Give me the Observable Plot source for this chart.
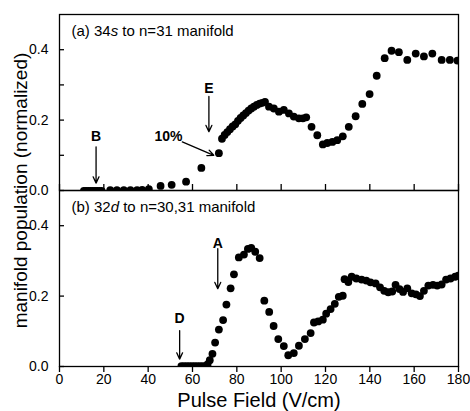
<!DOCTYPE html>
<html><head><meta charset="utf-8">
<script src="https://cdn.jsdelivr.net/npm/d3@7"></script>
<script src="https://cdn.jsdelivr.net/npm/@observablehq/plot@0.6"></script>
<style>
html,body{margin:0;padding:0;background:#fff;}
#chart{position:relative;width:470px;height:411px;}
#chart svg{position:absolute;left:0;overflow:visible;}
</style></head><body><div id="chart"></div>
<script>
// ---- data (a) 34s -> n=31 manifold ----
const topField = [11,12,13,14,15,16,17,18,19,
  22.9,25.9,29.0,32.0,35.0,37.3,40.3,45.6,50.6,57.1,64.0,71.9,
  73.3,74.5,75.7,76.9,78.1,79.3,80.5,81.7,82.9,84.1,85.3,86.5,87.7,89.0,90.3,91.5,92.7,
  94.5,96.7,99.0,101.2,103.5,105.7,108.0,109.8,111.3,113.7,116.3,118.8,120.8,123.1,125.3,127.8,130.5,133.6,136.6,139.9,
  143.1,146.7,149.8,153.1,156.9,160.7,164.4,168.2,172.4,176.1,179.5];
const topPop = [-0.001,-0.001,-0.001,-0.001,-0.001,-0.001,-0.001,-0.001,-0.001,
  0.001,0.001,0.001,0.001,0.001,0.002,0.004,0.013,0.016,0.025,0.064,0.106,
  0.147,0.158,0.166,0.174,0.182,0.188,0.198,0.206,0.213,0.220,0.227,0.233,0.238,0.243,0.247,0.249,0.252,
  0.238,0.233,0.224,0.229,0.219,0.210,0.205,0.205,0.208,0.181,0.157,0.131,0.135,0.138,0.143,0.154,0.181,0.211,0.246,0.274,
  0.326,0.376,0.397,0.393,0.371,0.389,0.381,0.389,0.371,0.371,0.369];
// ---- data (b) 32d -> n=30,31 manifold ----
const botField = [55.0,56.2,57.4,58.6,59.8,61.0,62.2,63.4,64.6,65.8,66.8,67.8,
  69.0,70.2,71.9,73.8,75.3,77.2,78.7,80.9,83.2,85.0,86.5,88.3,90.3,
  92.4,94.6,96.6,98.7,101.2,103.2,105.7,108.0,110.7,113.3,114.8,116.7,118.8,120.3,122.3,124.2,126.0,127.8,
  128.6,130.3,131.8,133.9,136.3,138.4,140.3,142.6,144.6,146.5,148.3,150.1,151.6,153.4,155.0,156.9,158.9,160.8,162.6,
  164.4,166.4,168.5,170.4,172.4,174.4,176.4,178.5,180.0];
const botPop = [0.001,0.001,0.001,0.001,0.001,0.001,0.001,0.001,0.001,0.001,0.006,0.018,
  0.036,0.068,0.105,0.132,0.176,0.222,0.262,0.310,0.318,0.334,0.337,0.326,0.308,
  0.187,0.155,0.115,0.078,0.058,0.032,0.038,0.059,0.078,0.095,0.125,0.128,0.133,0.150,0.163,0.178,0.198,0.201,
  0.248,0.240,0.255,0.250,0.247,0.244,0.239,0.236,0.225,0.215,0.211,0.213,0.232,0.220,0.212,0.222,0.208,0.205,0.200,
  0.215,0.230,0.232,0.230,0.233,0.247,0.250,0.255,0.258];
// ---- ticks ----
const xTicks = [0,20,40,60,80,100,120,140,160,180];
const yMajor = [0,0.2,0.4];
const yMinor = [0.1,0.3];
// ---- annotations ----
const topLabelText = ["B","E","10%"];
const topLabelX = [16.5,67.4,49.2];
const topLabelY = [0.152,0.291,0.152];
const topArrowX1 = [16.5,67.4,55.4], topArrowY1 = [0.124,0.267,0.138];
const topArrowX2 = [16.5,67.4,69.6], topArrowY2 = [0.021,0.167,0.100];
const botLabelText = ["A","D"];
const botLabelX = [71.4,54.2];
const botLabelY = [0.350,0.135];
const botArrowX1 = [71.4,54.2], botArrowY1 = [0.335,0.102];
const botArrowX2 = [71.4,54.2], botArrowY2 = [0.221,0.021];

const FONT = "'Liberation Sans', Arial, Helvetica, sans-serif";
const topPts = topField.map((x,i)=>({x, y: topPop[i]}));
const botPts = botField.map((x,i)=>({x, y: botPop[i]}));
const idx = a => a.map((_,i)=>i);

const W = 470, ML = 59, MR = 12, PANEL_H = 176;
const innerW = W - ML - MR;
const common = {
  width: W, marginLeft: ML, marginRight: MR,
  x: {domain: [0,180]}, y: {domain: [0,0.5]},
  style: {fontFamily: FONT, fontSize: "14px", color: "black", background: "transparent", overflow: "visible"}
};
const fmt = d3.format(".1f");
const arrowOpts = (X1,Y1,X2,Y2) => ({x1: i=>X1[i], y1: i=>Y1[i], x2: i=>X2[i], y2: i=>Y2[i],
  stroke: "black", strokeWidth: 1.3, headLength: 8, headAngle: 50});
// inward tick marks: full-frame ticks shortened by insets
const inwardX = ticks => Plot.tickX(ticks, {x: d=>d, insetTop: PANEL_H - 6, stroke: "black", strokeWidth: 1.3});
const inwardY = ticks => Plot.tickY(ticks, {y: d=>d, insetRight: innerW - 5, stroke: "black", strokeWidth: 1.3});

const topPlot = Plot.plot({
  ...common, height: 14 + PANEL_H, marginTop: 14, marginBottom: 0,
  x: {domain: [0,180], axis: null},
  marks: [
    Plot.frame({stroke: "black", strokeWidth: 1.3}),
    Plot.axisY(yMajor, {tickSize: 0, tickPadding: 11, tickFormat: fmt, label: null, fontSize: 14}),
    inwardY([...yMajor, ...yMinor]),
    inwardX(xTicks),
    Plot.dot(topPts, {x: "x", y: "y", r: 3.9, fill: "black", stroke: "none", clip: true}),
    Plot.arrow(idx(topArrowX1), arrowOpts(topArrowX1,topArrowY1,topArrowX2,topArrowY2)),
    Plot.text(idx(topLabelText), {x: i=>topLabelX[i], y: i=>topLabelY[i], text: i=>topLabelText[i], fontWeight: "bold", fontSize: 14}),
    Plot.text(["(a) 34s to n=31 manifold"], {text: d=>d, frameAnchor: "top-left", dx: 12, dy: 11, textAnchor: "start", lineAnchor: "top", fontSize: 15})
  ]
});

const botPlot = Plot.plot({
  ...common, height: PANEL_H + 45, marginTop: 0, marginBottom: 45,
  marks: [
    Plot.frame({stroke: "black", strokeWidth: 1.3}),
    Plot.axisY(yMajor, {tickSize: 0, tickPadding: 11, tickFormat: fmt, label: null, fontSize: 14}),
    inwardY(yMajor),
    Plot.axisX(xTicks, {tickSize: 6, tickPadding: 2, label: null, fontSize: 14, strokeWidth: 1.3}),
    Plot.dot(botPts, {x: "x", y: "y", r: 3.9, fill: "black", stroke: "none", clip: true}),
    Plot.arrow(idx(botArrowX1), arrowOpts(botArrowX1,botArrowY1,botArrowX2,botArrowY2)),
    Plot.text(idx(botLabelText), {x: i=>botLabelX[i], y: i=>botLabelY[i], text: i=>botLabelText[i], fontWeight: "bold", fontSize: 14}),
    Plot.text(["(b) 32d to n=30,31 manifold"], {text: d=>d, frameAnchor: "top-left", dx: 12, dy: 11, textAnchor: "start", lineAnchor: "top", fontSize: 15}),
    Plot.text(["Pulse Field (V/cm)"], {text: d=>d, frameAnchor: "bottom", dy: 34, fontSize: 20, lineAnchor: "middle"}),
    Plot.text(["manifold population (normalized)"], {text: d=>d, frameAnchor: "top-left", dx: -39, rotate: -90, fontSize: 19, textAnchor: "middle", lineAnchor: "middle"})
  ]
});

const chart = document.getElementById("chart");
topPlot.style.top = "0px";
botPlot.style.top = (14 + PANEL_H) + "px";
chart.appendChild(topPlot);
chart.appendChild(botPlot);

// italicise the state letters in panel titles
function italicize(svg, full, pre, it, post) {
  svg.querySelectorAll("text").forEach(t => {
    if (t.textContent === full) {
      t.textContent = "";
      const ns = "http://www.w3.org/2000/svg";
      const a = document.createElementNS(ns, "tspan"); a.textContent = pre;
      const b = document.createElementNS(ns, "tspan"); b.textContent = it; b.setAttribute("font-style", "italic");
      const c = document.createElementNS(ns, "tspan"); c.textContent = post;
      t.append(a, b, c);
    }
  });
}
italicize(topPlot, "(a) 34s to n=31 manifold", "(a) 34", "s", " to n=31 manifold");
italicize(botPlot, "(b) 32d to n=30,31 manifold", "(b) 32", "d", " to n=30,31 manifold");
</script></body></html>
